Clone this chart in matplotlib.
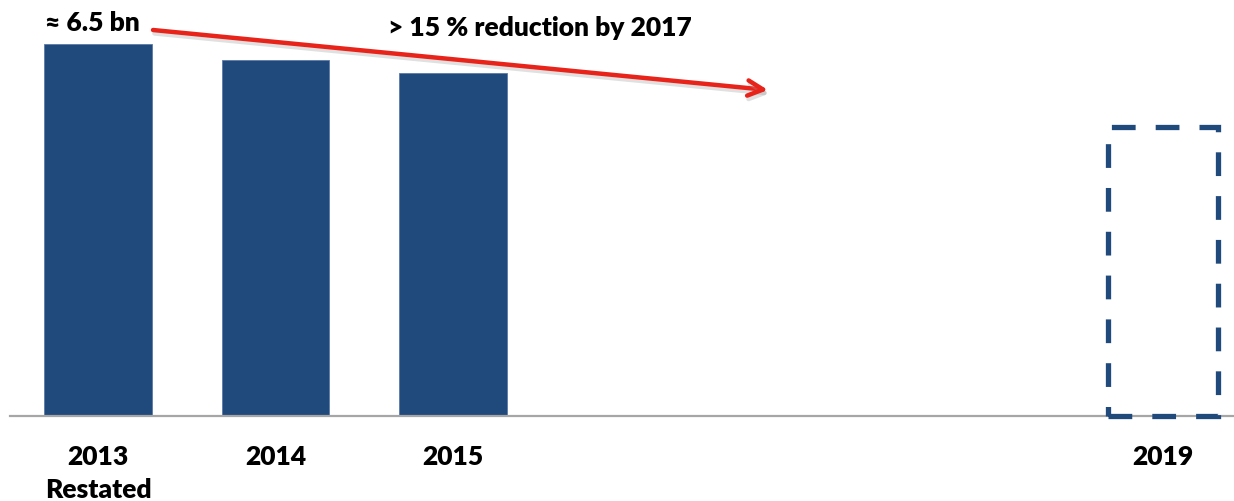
import matplotlib.pyplot as plt
import matplotlib.patheffects as pe
from matplotlib.patches import Rectangle

# cost base, bn
years = ["2013\nRestated", "2014", "2015", "2016", "2017", "2018", "2019"]
tick_labels = ["2013\nRestated", "2014", "2015", "", "", "", "2019"]
actual_pos = [0, 1, 2]
actual_vals = [6.5, 6.22, 5.99]
target_pos = 6
target_val = 5.05

bar_color = "#214A7C"
plt.rcParams["font.family"] = ["Lato", "DejaVu Sans"]
weight = 800
fsize = 19

fig = plt.figure(figsize=(12.34, 5.01), dpi=100)
ax = fig.add_axes([10 / 1234, 85 / 501, 1 - 10 / 1234, 416 / 501])

width = 0.605
ax.bar(actual_pos, actual_vals, width=width, color=bar_color,
       edgecolor="#5A7AA6", linewidth=0.6, zorder=2)

# 2019 target drawn as an open dashed box
box = Rectangle((target_pos - width / 2 - 0.01, 0), width + 0.02, target_val,
                fill=False, edgecolor=bar_color, linewidth=3.8,
                linestyle=(0, (4.5, 3.8)), zorder=5, clip_on=False)
ax.add_patch(box)

ax.set_xlim(-0.496, 6.40)
ax.set_ylim(0, 7.27)
ax.set_xticks(range(len(years)))
ax.set_xticklabels(tick_labels, fontsize=fsize, fontweight=weight, linespacing=1.45)
ax.tick_params(axis="x", length=0, pad=21)
ax.set_yticks([])
for s in ["top", "right", "left"]:
    ax.spines[s].set_visible(False)
ax.spines["bottom"].set_color("#A6A6A6")
ax.spines["bottom"].set_linewidth(1.6)
ax.spines["bottom"].set_zorder(3)

fig.text(45 / 1234, 1 - 23 / 501, "\u2248 6.5 bn", fontsize=fsize, fontweight=weight,
         ha="left", va="center")
fig.text(540 / 1234, 1 - 28 / 501, "> 15 % reduction by 2017", fontsize=fsize,
         fontweight=weight, ha="center", va="center")

arr = ax.annotate("", xy=(768, 501 - 90), xytext=(153, 501 - 30),
                  xycoords="figure pixels", textcoords="figure pixels",
                  arrowprops=dict(arrowstyle="->,head_length=1.1,head_width=0.55",
                                  color="#E8231A", lw=3.2, shrinkA=0, shrinkB=0))
arr.arrow_patch.set_path_effects([
    pe.SimpleLineShadow(offset=(1, -2.5), shadow_color="#999999", alpha=0.3),
    pe.Normal()])

fig.savefig("out.png", dpi=100)
